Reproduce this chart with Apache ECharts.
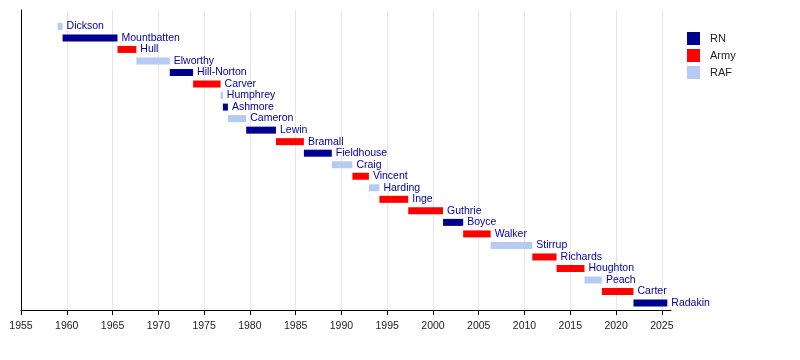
<!DOCTYPE html>
<html>
<head>
<meta charset="utf-8">
<script src="https://cdn.jsdelivr.net/npm/echarts@6/dist/echarts.min.js"></script>
<style>html,body{margin:0;padding:0;background:#fff}#c{width:800px;height:360px}</style>
</head>
<body>
<div id="c"></div>
<script>
const names = ['Dickson','Mountbatten','Hull','Elworthy','Hill-Norton','Carver','Humphrey','Ashmore','Cameron','Lewin','Bramall','Fieldhouse','Craig','Vincent','Harding','Inge','Guthrie','Boyce','Walker','Stirrup','Richards','Houghton','Peach','Carter','Radakin'];
const branches = ['RAF','RN','Army','RAF','RN','Army','RAF','RN','RAF','RN','Army','RN','RAF','Army','RAF','Army','Army','RN','Army','RAF','Army','Army','RAF','Army','RN'];
const starts = [1959.0,1959.54,1965.54,1967.6,1971.25,1973.8,1976.8,1977.05,1977.6,1979.6,1982.85,1985.9,1988.95,1991.2,1993.0,1994.15,1997.3,2001.1,2003.3,2006.3,2010.85,2013.5,2016.55,2018.45,2021.9];
const ends = [1959.54,1965.54,1967.6,1971.25,1973.8,1976.8,1977.05,1977.6,1979.6,1982.85,1985.9,1988.95,1991.2,1993.0,1994.15,1997.3,2001.1,2003.3,2006.3,2010.85,2013.5,2016.55,2018.45,2021.9,2025.6];
const branchNames = ['RN','Army','RAF'];
const branchColors = ['#00008f','#ff0000','#b5cbf3'];
const yearTicks = [1955,1960,1965,1970,1975,1980,1985,1990,1995,2000,2005,2010,2015,2020,2025];

const FONT = "'Liberation Sans', Arial, Helvetica, sans-serif";
const chart = echarts.init(document.getElementById('c'), null, {renderer:'canvas'});

const series = branchNames.map((b, bi) => {
  const items = [];
  names.forEach((n, i) => { if (branches[i] === b) items.push([starts[i], ends[i], i, n]); });
  return {
    name: b,
    type: 'custom',
    color: branchColors[bi],
    encode: {x: [0, 1], y: 2},
    renderItem: function (params, api) {
      const it = items[params.dataIndex];
      const s = api.coord([it[0], it[2]]);
      const e = api.coord([it[1], it[2]]);
      const h = 7;
      return {
        type: 'group',
        children: [
          {type: 'rect', shape: {x: s[0], y: s[1] - h / 2, width: Math.max(e[0] - s[0], 1), height: h},
           style: {fill: branchColors[bi]}},
          {type: 'text', x: e[0] + 4, y: s[1],
           style: {text: it[3], fill: '#00009c', font: '10.5px ' + FONT, textVerticalAlign: 'middle', textAlign: 'left'}}
        ]
      };
    },
    data: items
  };
});

chart.setOption({
  animation: false,
  backgroundColor: '#fff',
  textStyle: {fontFamily: FONT},
  grid: {left: 21, right: 129, top: 10, bottom: 50, containLabel: false},
  legend: {
    data: branchNames, orient: 'vertical', left: 682, top: 27,
    itemWidth: 13, itemHeight: 13, itemGap: 4, icon: 'rect',
    textStyle: {fontSize: 11, color: '#222', fontFamily: FONT, padding: [0, 0, 0, 5]}
  },
  xAxis: {
    type: 'value', min: 1955, max: 2026, interval: 5, position: 'bottom',
    axisLine: {show: true, onZero: false, lineStyle: {color: '#000', width: 1}},
    axisTick: {show: true, length: 5, inside: false, lineStyle: {color: '#000'}, customValues: yearTicks},
    axisLabel: {fontSize: 10.5, color: '#222', margin: 11, customValues: yearTicks, formatter: v => String(v)},
    splitLine: {show: true, lineStyle: {color: '#e6e6e6', width: 1}}
  },
  yAxis: {
    type: 'value', inverse: true, min: -1.42, max: 24.6,
    axisLine: {show: true, onZero: false, lineStyle: {color: '#000', width: 1}},
    axisTick: {show: false}, axisLabel: {show: false}, splitLine: {show: false}
  },
  series: series
});
</script>
</body>
</html>
